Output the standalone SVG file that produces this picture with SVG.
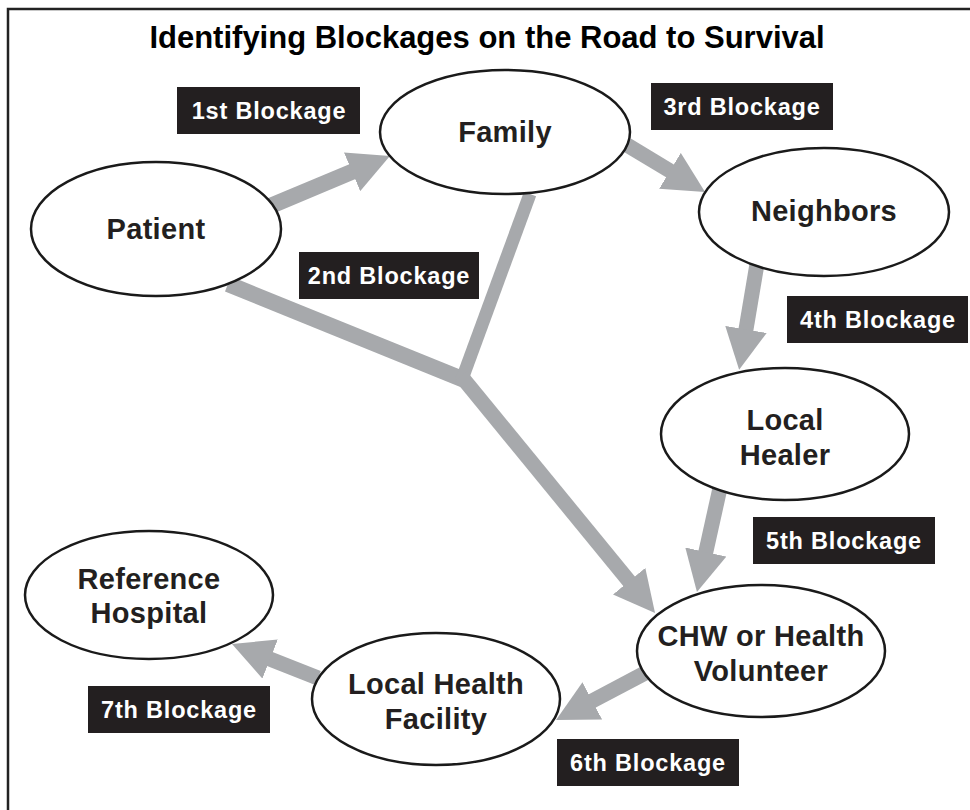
<svg xmlns="http://www.w3.org/2000/svg" width="970" height="810" viewBox="0 0 970 810">
<style>
.node ellipse{fill:#fff;stroke:#1a1a1a;stroke-width:2.5}
.node text{font-family:"Liberation Sans",Arial,sans-serif;font-weight:bold;font-size:29px;letter-spacing:0.3px;fill:#231f20;text-anchor:middle}
.lbl rect{fill:#231f20}
.lbl text{font-family:"Liberation Sans",Arial,sans-serif;font-weight:bold;font-size:23.5px;letter-spacing:0.8px;fill:#fff;text-anchor:middle}
.title{font-family:"Liberation Sans",Arial,sans-serif;font-weight:bold;font-size:31px;fill:#000;text-anchor:middle}
#connectors line{stroke:#a7a9ac;stroke-width:15;stroke-linecap:butt;fill:none}
</style>
<defs>
<marker id="ah" markerUnits="userSpaceOnUse" viewBox="-1 0 41 42" markerWidth="41" markerHeight="42" refX="0" refY="21" orient="auto">
<path d="M-1,0 L40,21 L-1,42 Z" fill="#a7a9ac"/>
</marker>
</defs>
<rect x="0" y="0" width="970" height="810" fill="#fff"/>
<path d="M8,810 L8,9 L970,9" fill="none" stroke="#222" stroke-width="2.5"/>
<text class="title" x="487" y="48">Identifying Blockages on the Road to Survival</text>

<g id="connectors">
<line x1="268" y1="207" x2="353" y2="171.4" marker-end="url(#ah)" style="stroke-width:16"/>
<line x1="627" y1="145" x2="670.8" y2="171.4" marker-end="url(#ah)"/>
<line x1="757" y1="264" x2="745.8" y2="330.4" marker-end="url(#ah)"/>
<line x1="720" y1="488" x2="705.6" y2="553" marker-end="url(#ah)"/>
<line x1="647" y1="672" x2="591.4" y2="701.4" marker-end="url(#ah)"/>
<line x1="318" y1="678" x2="269.2" y2="658.7" marker-end="url(#ah)"/>
<line x1="228" y1="284" x2="467" y2="381" style="stroke-width:16"/>
<line x1="530" y1="194" x2="461" y2="382" style="stroke-width:13"/>
<line x1="461" y1="376" x2="629.7" y2="582" marker-end="url(#ah)"/>
</g>

<g id="patient" class="node"><ellipse cx="156" cy="229" rx="125" ry="67"/><text x="156" y="239">Patient</text></g>
<g id="family" class="node"><ellipse cx="505" cy="132" rx="125" ry="62"/><text x="505" y="142">Family</text></g>
<g id="neighbors" class="node"><ellipse cx="824" cy="212" rx="125" ry="64"/><text x="824" y="221">Neighbors</text></g>
<g id="local-healer" class="node"><ellipse cx="785" cy="434" rx="124" ry="66"/><text x="785" y="430">Local</text><text x="785" y="465">Healer</text></g>
<g id="chw" class="node"><ellipse cx="761" cy="651" rx="124" ry="66"/><text x="761" y="646">CHW or Health</text><text x="761" y="681">Volunteer</text></g>
<g id="local-health-facility" class="node"><ellipse cx="436" cy="699" rx="124" ry="66"/><text x="436" y="694">Local Health</text><text x="436" y="729">Facility</text></g>
<g id="reference-hospital" class="node"><ellipse cx="149" cy="595" rx="124" ry="64"/><text x="149" y="589">Reference</text><text x="149" y="623">Hospital</text></g>

<g id="b1" class="lbl"><rect x="177" y="87" width="183" height="47"/><text x="269" y="119">1st Blockage</text></g>
<g id="b2" class="lbl"><rect x="299" y="252" width="180" height="47"/><text x="389" y="284">2nd Blockage</text></g>
<g id="b3" class="lbl"><rect x="651" y="83" width="182" height="47"/><text x="742" y="115">3rd Blockage</text></g>
<g id="b4" class="lbl"><rect x="787" y="296" width="181" height="47"/><text x="878" y="328">4th Blockage</text></g>
<g id="b5" class="lbl"><rect x="753" y="517" width="182" height="47"/><text x="844" y="549">5th Blockage</text></g>
<g id="b6" class="lbl"><rect x="557" y="739" width="182" height="47"/><text x="648" y="771">6th Blockage</text></g>
<g id="b7" class="lbl"><rect x="88" y="686" width="182" height="47"/><text x="179" y="718">7th Blockage</text></g>
</svg>
